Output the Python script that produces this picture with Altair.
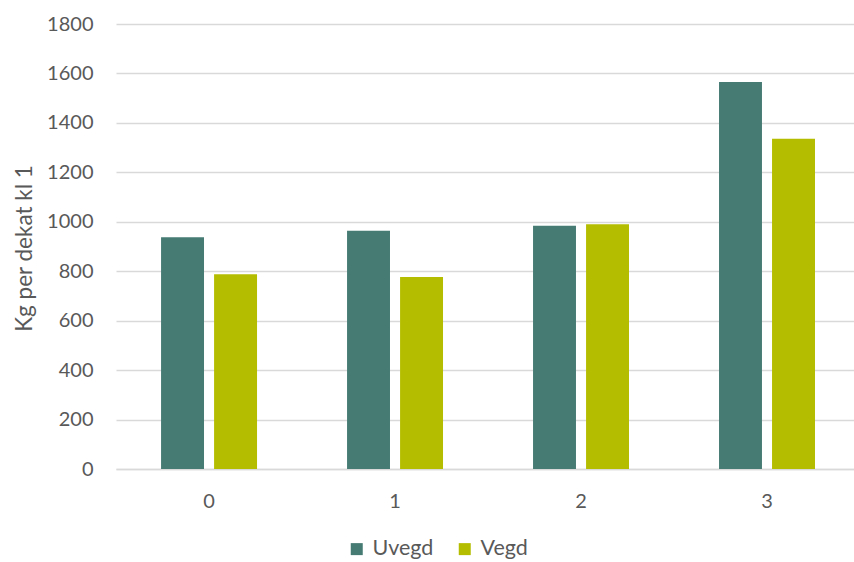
import altair as alt
import pandas as pd

categories = ["0", "1", "2", "3"]
uvegd = [937, 964, 984, 1565]
vegd = [788, 777, 990, 1336]
series = ["Uvegd", "Vegd"]
colors = ["#467B73", "#B5BD00"]

rows = []
for c, u, v in zip(categories, uvegd, vegd):
    rows.append({"cat": c, "serie": "Uvegd", "val": u})
    rows.append({"cat": c, "serie": "Vegd", "val": v})
df = pd.DataFrame(rows)

FONT = "Lato"
GREY = "#595959"

chart = alt.Chart(df).mark_bar().encode(
    x=alt.X("cat:N", sort=categories,
            scale=alt.Scale(paddingInner=0.484, paddingOuter=0.226, align=0.536),
            axis=alt.Axis(title=None, labelAngle=0, ticks=False, domainColor="#d9d9d9",
                          domainWidth=1.3, labelFontSize=20, labelColor=GREY,
                          labelFont=FONT, labelPadding=22, grid=False)),
    xOffset=alt.XOffset("serie:N", sort=series,
                        scale=alt.Scale(paddingInner=0.19, paddingOuter=0)),
    y=alt.Y("val:Q", scale=alt.Scale(domain=[0, 1800], nice=False),
            axis=alt.Axis(values=list(range(0, 1801, 200)), format="d",
                          title="Kg per dekat kl 1",
                          titleFontSize=22.5, titleFont=FONT, titleColor=GREY,
                          titleFontWeight="normal", titleX=-85, titleY=224,
                          titleAngle=-90, titleAlign="center", titleBaseline="alphabetic",
                          labelFontSize=20, labelFont=FONT, labelColor=GREY,
                          labelPadding=23, ticks=False, domain=False,
                          gridColor="#d9d9d9", gridWidth=1.3)),
    color=alt.Color("serie:N", sort=series,
                    scale=alt.Scale(domain=series, range=colors),
                    legend=alt.Legend(title=None, orient="none", direction="horizontal",
                                      legendX=230, legendY=514, symbolType="square",
                                      symbolSize=144, symbolStrokeWidth=0,
                                      labelFontSize=21.5, labelFont=FONT, labelColor=GREY,
                                      labelOffset=5, columnPadding=20)),
).properties(
    width=738, height=445,
    background="white",
    autosize=alt.AutoSizeParams(type="none"),
    padding={"left": 116, "top": 24, "right": 0, "bottom": 93},
).configure_view(stroke=None)

chart.save("out.html", embed_options={"renderer": "svg", "actions": False})
